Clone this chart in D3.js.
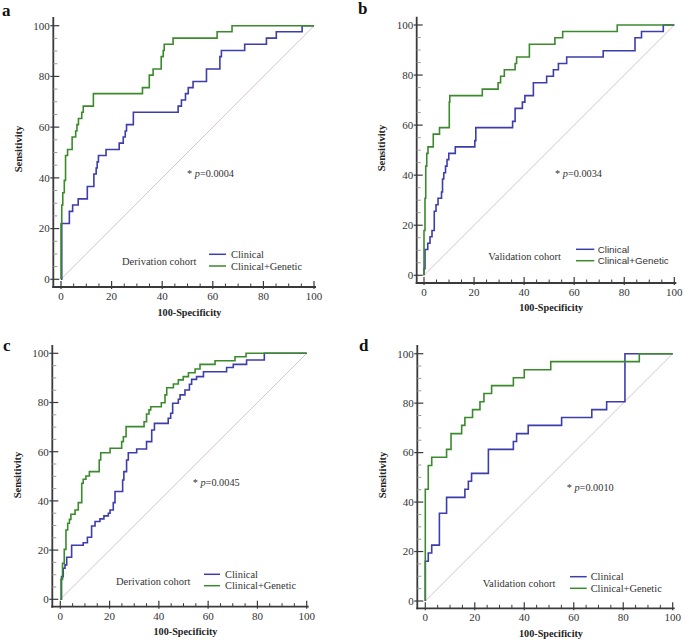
<!DOCTYPE html>
<html><head><meta charset="utf-8">
<script src="https://cdn.jsdelivr.net/npm/d3@7"></script>
<style>body{margin:0;background:#fff}svg{display:block}</style>
</head><body>
<svg id="c" width="685" height="640"></svg>
<script>
// ---- data (100-Specificity, Sensitivity) ----
const derivClinicalA = [[0,0],[0.3,22],[3.3,26.8],[4.6,29.3],[6.8,31.7],[10.4,36.6],[13.0,41.5],[13.9,43.9],[14.3,46.3],[14.8,48.8],[17.8,51.2],[23.0,53.7],[24.6,56.1],[25.4,58.5],[25.9,61],[28.6,65.9],[46.3,68.3],[47.6,70.7],[49.2,73.2],[50.3,75.6],[52.2,78],[57.5,82.9],[62.8,87.8],[63.4,90.2],[72.6,92.7],[81.2,95.1],[85.1,97.6],[95.3,100],[100,100]];
const derivGeneticA = [[0,0],[0,22],[0.3,29.3],[0.7,34.1],[1.3,39],[1.8,48.8],[2.6,51.2],[4.4,56.1],[5.8,58.5],[6.3,61],[6.9,63.4],[8.2,65.9],[8.8,68.3],[12.8,73.2],[32.2,75.6],[34.9,80.5],[36.4,82.9],[39.6,87.8],[40.4,90.2],[40.8,92.7],[44.3,95.1],[61.7,97.6],[67.6,100],[100,100]];
const validClinicalB = [[0,0],[0,2.6],[0.4,10.3],[1.5,12.8],[2.4,15.4],[3.2,17.9],[4.1,25.6],[4.8,28.2],[5.6,30.8],[7,33.3],[7.4,38.5],[7.9,41],[8.6,43.6],[9.2,46.2],[9.9,48.7],[12.5,51.3],[20.3,53.8],[20.7,59],[35.4,61.5],[36.4,66.7],[39.3,69.2],[40.3,71.8],[43.7,76.9],[49,79.5],[51.7,82.1],[53.7,84.6],[57,87.2],[71.6,89.7],[84.3,94.9],[86.9,97.4],[95.6,100],[100,100]];
const validGeneticB = [[0,0],[0,17.9],[0.4,30.8],[0.7,43.6],[1.1,48.7],[1.6,51.3],[3.7,56.4],[6.2,59],[10.1,69.2],[10.3,71.8],[23.3,74.4],[29.6,76.9],[30.6,79.5],[32.1,82.1],[36.4,84.6],[37,87.2],[42.1,92.3],[52.3,94.9],[55.4,97.4],[77.2,100],[100,100]];
const derivClinicalC = [[0,0],[0.5,9.2],[1.2,12.6],[1.9,14],[2.6,17.1],[4.6,22],[9.3,23],[11,25.2],[12.7,29.8],[14.1,31.6],[16.1,32.7],[17.7,33.9],[19.5,35],[20.2,36.3],[21.5,39.3],[22.2,43.8],[25.3,48.5],[25.8,51.9],[26.9,56.6],[27.6,59.6],[31,61.1],[35,64.1],[37.1,68.8],[38.2,71.5],[43.8,73.6],[44.8,75.6],[45.6,79.7],[47.9,81.3],[48.6,83.1],[50.6,85.1],[52.4,87.4],[53.3,89.4],[55.3,90.5],[58.1,92.5],[67.5,94.2],[70.2,95.5],[75.6,97.3],[82.8,100],[100,100]];
const derivGeneticC = [[0,0],[0.3,8.1],[0.9,14.6],[1.6,20.3],[2.3,28.2],[3,30.9],[3.7,32.5],[4.3,34.6],[6,36.3],[7.3,39.3],[8.7,47.2],[9.3,48.8],[10.4,50.1],[11.8,51.9],[15.8,56.6],[16.4,59.6],[20.2,61.4],[24.9,64.1],[25.6,66.1],[26.7,70.2],[34,72.2],[35,75.3],[36,77],[36.7,78.3],[41,79.9],[42.5,83.1],[43.2,86],[45.9,87.5],[47.9,89.2],[49.9,90.5],[52,92.1],[54.7,93.6],[56.7,95.5],[62.8,97],[70.9,98.6],[75.4,100],[100,100]];
const validClinicalD = [[0,0],[0,16.1],[1.2,19.4],[2.6,22.6],[5.7,35.5],[8.6,41.9],[16,45.2],[17.4,48.4],[18.7,51.6],[25.5,61.3],[35.6,64.5],[36.9,67.7],[41.6,71],[55.1,74.2],[67.3,77.4],[73.3,80.6],[80.7,100],[100,100]];
const validGeneticD = [[0,0],[0,45.2],[1.2,54.8],[2.6,58.1],[8.6,61.3],[10.4,67.7],[14.7,71],[16,74.2],[19.1,77.4],[22.1,80.6],[23.7,83.9],[26.8,87.1],[35.6,90.3],[40,93.5],[50.7,96.8],[86.5,100],[100,100]];

const majorTicks = [0,20,40,60,80,100];
const minorTicks = [5,10,15,25,30,35,45,50,55,65,70,75,85,90,95];
const seriesNames = ["Clinical","Clinical+Genetic"];
const panelLetters = ["a","b","c","d"];
const cohortLabels = ["Derivation cohort","Validation cohort","Derivation cohort","Validation cohort"];
const pValues = ["0.0004","0.0034","0.0045","0.0010"];
const xTitle = "100-Specificity", yTitle = "Sensitivity";

const BLUE = "#3d3dab", GREEN = "#3b8a2c";
const SERIF = "'Liberation Serif','Times New Roman',serif";
const SANS = "'Liberation Sans',Arial,sans-serif";

const panels = [
  {data:[derivClinicalA,derivGeneticA], x0:61, x1:314, y0:279.3, y1:25.7, ax:53.3, ay:287, top:17, letter:[2,16],
   ylab:149, xtb:315.5, p:[187,176.5], coh:[122,264.5], leg:[209,226,254.3,266,231], legFont:SERIF},
  {data:[validClinicalB,validGeneticB], x0:424, x1:674.3, y0:275.3, y1:25, ax:416.7, ay:283, top:16.7, letter:[358,14],
   ylab:148, xtb:310.5, p:[555,177], coh:[488.3,260], leg:[576,594.3,249.3,260.7,597.7], legFont:SANS},
  {data:[derivClinicalC,derivGeneticC], x0:60.3, x1:306.7, y0:599.3, y1:353.3, ax:52.3, ay:606.7, top:345, letter:[3,351],
   ylab:475, xtb:634.5, p:[192.7,485.5], coh:[116,584.5], leg:[204,220,574.3,585.7,225], legFont:SERIF},
  {data:[validClinicalD,validGeneticD], x0:425.3, x1:672.7, y0:601, y1:353.7, ax:417.3, ay:608.3, top:345, letter:[359,351],
   ylab:475, xtb:636.5, p:[566.7,490.5], coh:[482.7,586.5], leg:[570,586.7,576.7,588.3,590.7], legFont:SERIF}
];

const svg = d3.select("#c");

panels.forEach((P,i)=>{
  const x = d3.scaleLinear().domain([0,100]).range([P.x0,P.x1]);
  const y = d3.scaleLinear().domain([0,100]).range([P.y0,P.y1]);
  const g = svg.append("g");

  // diagonal reference
  g.append("line").attr("x1",x(0)).attr("y1",y(0)).attr("x2",x(100)).attr("y2",y(100))
    .attr("stroke","#d9c3c9").attr("stroke-width",1);

  // axes lines
  g.append("line").attr("x1",P.ax).attr("x2",P.ax).attr("y1",P.top).attr("y2",P.ay+1)
    .attr("stroke","#3a3a3a").attr("stroke-width",1.8);
  g.append("line").attr("x1",P.ax-1).attr("x2",x(100)+2).attr("y1",P.ay).attr("y2",P.ay)
    .attr("stroke","#3a3a3a").attr("stroke-width",1.8);

  // y ticks
  g.selectAll(".ymin").data(minorTicks).join("line")
    .attr("x1",P.ax).attr("x2",P.ax+4).attr("y1",d=>y(d)).attr("y2",d=>y(d))
    .attr("stroke","#9a9a9a").attr("stroke-width",1);
  g.selectAll(".ymaj").data(majorTicks).join("line")
    .attr("x1",P.ax-3).attr("x2",P.ax+6).attr("y1",d=>y(d)).attr("y2",d=>y(d))
    .attr("stroke","#3a3a3a").attr("stroke-width",1.2);
  g.selectAll(".ylab").data(majorTicks).join("text")
    .attr("x",P.ax-3.5).attr("y",d=>y(d)+3.8).attr("text-anchor","end")
    .attr("font-family",SERIF).attr("font-size",11).attr("fill","#333").text(d=>d);

  // x ticks
  g.selectAll(".xmin").data(minorTicks).join("line")
    .attr("x1",d=>x(d)).attr("x2",d=>x(d)).attr("y1",P.ay).attr("y2",P.ay-3.5)
    .attr("stroke","#3a3a3a").attr("stroke-width",1);
  g.selectAll(".xmaj").data(majorTicks).join("line")
    .attr("x1",d=>x(d)).attr("x2",d=>x(d)).attr("y1",P.ay+2).attr("y2",P.ay-6)
    .attr("stroke","#3a3a3a").attr("stroke-width",1.2);
  g.selectAll(".xlab").data(majorTicks).join("text")
    .attr("x",d=>x(d)).attr("y",P.ay+12.8).attr("text-anchor","middle")
    .attr("font-family",SERIF).attr("font-size",11).attr("fill","#333").text(d=>d);

  // titles
  g.append("text").attr("x",(P.x0+P.x1)/2+2).attr("y",P.xtb).attr("text-anchor","middle")
    .attr("font-family",SERIF).attr("font-weight","bold").attr("font-size",10.2).attr("fill","#222").text(xTitle);
  g.append("text").attr("transform",`translate(${P.ax-31.5},${P.ylab}) rotate(-90)`).attr("text-anchor","middle")
    .attr("font-family",SERIF).attr("font-weight","bold").attr("font-size",10.5).attr("fill","#222").text(yTitle);
  g.append("text").attr("x",P.letter[0]).attr("y",P.letter[1])
    .attr("font-family",SERIF).attr("font-weight","bold").attr("font-size",17).attr("fill","#111").text(panelLetters[i]);

  // curves
  const line = d3.line().x(d=>x(d[0])).y(d=>y(d[1])).curve(d3.curveStepAfter);
  [BLUE,GREEN].forEach((col,k)=>{
    g.append("path").datum(P.data[k]).attr("d",line).attr("fill","none")
      .attr("stroke",col).attr("stroke-width",1.6).attr("stroke-linejoin","miter");
  });

  // p text
  const pt = g.append("text").attr("x",P.p[0]).attr("y",P.p[1])
    .attr("font-family",SERIF).attr("font-size",10.3).attr("fill","#333");
  pt.append("tspan").text("* ");
  pt.append("tspan").attr("font-style","italic").text("p");
  pt.append("tspan").text("="+pValues[i]);

  // cohort label + legend
  g.append("text").attr("x",P.coh[0]).attr("y",P.coh[1])
    .attr("font-family",SERIF).attr("font-size",10.5).attr("fill","#333").text(cohortLabels[i]);
  const L = P.leg;
  [BLUE,GREEN].forEach((col,k)=>{
    const ly = k===0?L[2]:L[3];
    g.append("line").attr("x1",L[0]).attr("x2",L[1]).attr("y1",ly).attr("y2",ly)
      .attr("stroke",col).attr("stroke-width",1.5);
    g.append("text").attr("x",L[4]).attr("y",ly+3.6)
      .attr("font-family",P.legFont).attr("font-size",P.legFont===SANS?9.8:10.4).attr("fill","#333").text(seriesNames[k]);
  });
});
</script>
</body></html>
